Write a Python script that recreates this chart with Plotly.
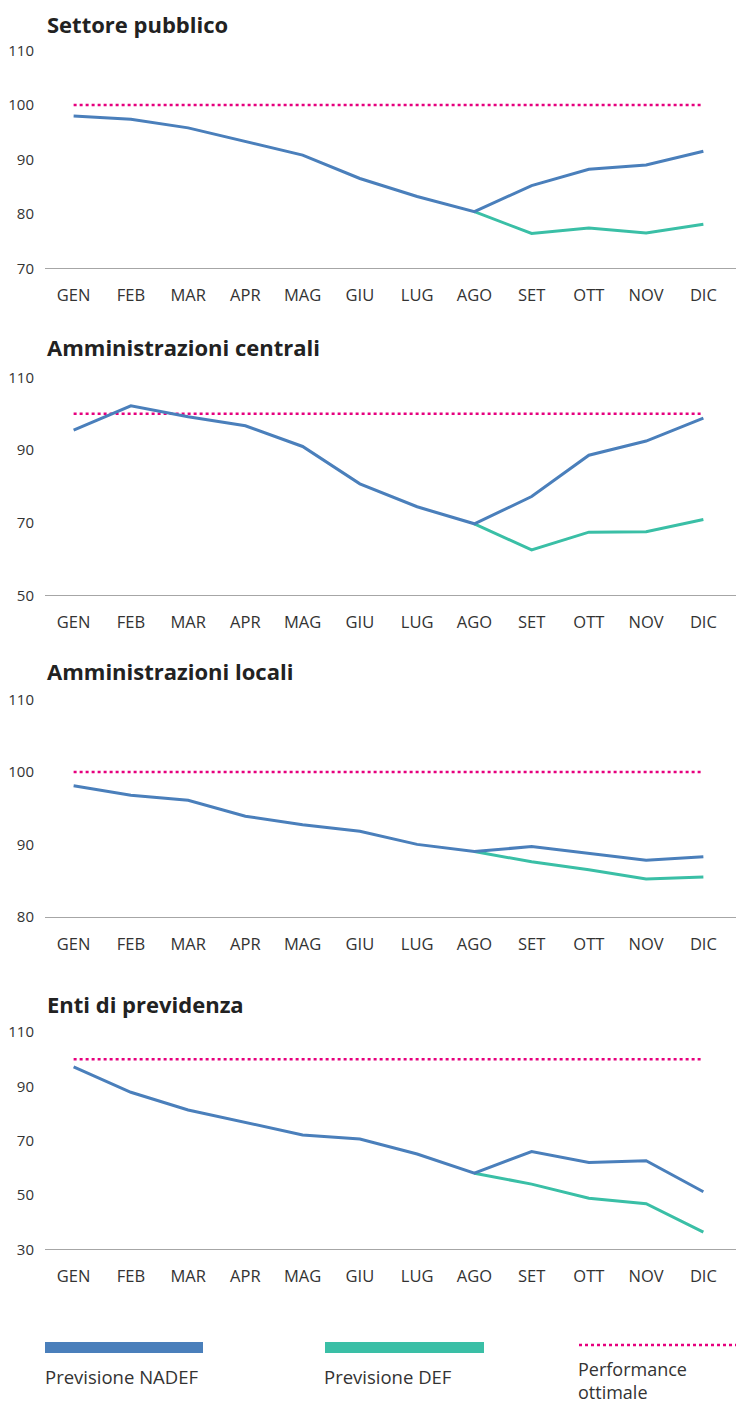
import plotly.graph_objects as go

months = ["GEN", "FEB", "MAR", "APR", "MAG", "GIU", "LUG", "AGO", "SET", "OTT", "NOV", "DIC"]

titles = ["Settore pubblico", "Amministrazioni centrali", "Amministrazioni locali", "Enti di previdenza"]

nadef_pubblico = [98.0, 97.4, 95.8, 93.3, 90.8, 86.5, 83.2, 80.4, 85.2, 88.2, 89.0, 91.5]
def_pubblico = [None, None, None, None, None, None, None, 80.4, 76.4, 77.4, 76.5, 78.1]

nadef_centrali = [95.5, 102.2, 99.2, 96.7, 91.0, 80.7, 74.4, 69.7, 77.2, 88.6, 92.5, 98.8]
def_centrali = [None, None, None, None, None, None, None, 69.7, 62.5, 67.4, 67.5, 70.9]

nadef_locali = [98.1, 96.8, 96.1, 93.9, 92.7, 91.8, 90.0, 89.0, 89.7, 88.7, 87.8, 88.3]
def_locali = [None, None, None, None, None, None, None, 89.0, 87.6, 86.5, 85.2, 85.5]

nadef_previdenza = [97.2, 87.8, 81.3, 76.7, 72.1, 70.6, 65.1, 58.0, 66.0, 62.0, 62.6, 51.2]
def_previdenza = [None, None, None, None, None, None, None, 58.0, 54.0, 48.8, 46.8, 36.3]

ottimale = [100] * 12

y_ranges = [[70, 110], [50, 110], [80, 110], [30, 110]]
y_ticks = [[70, 80, 90, 100, 110], [50, 70, 90, 110], [80, 90, 100, 110], [30, 50, 70, 90, 110]]

legend_labels = ["Previsione NADEF", "Previsione DEF", "Performance<br>ottimale"]

BLUE = "#4A7FBB"
GREEN = "#3ABFA6"
PINK = "#E6007E"
TEXT = "#333333"
FONT = "Open Sans"

W, H = 736, 1405
# plot areas in pixels: (top, bottom)
areas = [(50.6, 268.3), (377.5, 595.3), (699.7, 916.7), (1032.0, 1249.3)]
title_y = [24, 347, 671, 1004]
x0, x1 = 45, 736

nadef = [nadef_pubblico, nadef_centrali, nadef_locali, nadef_previdenza]
defs = [def_pubblico, def_centrali, def_locali, def_previdenza]

fig = go.Figure()
annotations = []
for i in range(4):
    xa = "x" if i == 0 else f"x{i+1}"
    ya = "y" if i == 0 else f"y{i+1}"
    fig.add_trace(go.Scatter(x=months, y=ottimale, mode="lines", xaxis=xa, yaxis=ya,
                             line=dict(color=PINK, width=2.5, dash="dot"), showlegend=False))
    fig.add_trace(go.Scatter(x=months, y=defs[i], mode="lines", xaxis=xa, yaxis=ya,
                             line=dict(color=GREEN, width=3), showlegend=False))
    fig.add_trace(go.Scatter(x=months, y=nadef[i], mode="lines", xaxis=xa, yaxis=ya,
                             line=dict(color=BLUE, width=3), showlegend=False))
    top, bot = areas[i]
    xkey = "xaxis" if i == 0 else f"xaxis{i+1}"
    ykey = "yaxis" if i == 0 else f"yaxis{i+1}"
    fig.update_layout(**{
        xkey: dict(domain=[x0 / W, x1 / W], anchor=ya, type="category",
                   categoryorder="array", categoryarray=months,
                   range=[-0.5, 11.57], showgrid=False, zeroline=False,
                   showline=True, linecolor="#A6A6A6", linewidth=1.3,
                   ticks="", tickfont=dict(family=FONT, size=16.5, color=TEXT),
                   ticklabelstandoff=12, fixedrange=True, automargin=False),
        ykey: dict(domain=[1 - bot / H, 1 - top / H], anchor=xa, range=y_ranges[i],
                   tickvals=y_ticks[i], showgrid=False, zeroline=False, showline=False,
                   ticks="", tickfont=dict(family=FONT, size=15, color=TEXT),
                   ticklabelstandoff=10, fixedrange=True, automargin=False),
    })
    annotations.append(dict(text=f"<b>{titles[i]}</b>", xref="paper", yref="paper",
                            x=x0 / W, y=1 - title_y[i] / H, xanchor="left", yanchor="middle",
                            showarrow=False, font=dict(family=FONT, size=22, color="#222222")))

# legend (drawn manually)
shapes = [
    dict(type="rect", xref="paper", yref="paper", x0=45 / W, x1=203 / W,
         y0=1 - 1353 / H, y1=1 - 1342 / H, fillcolor=BLUE, line=dict(width=0)),
    dict(type="rect", xref="paper", yref="paper", x0=325 / W, x1=484 / W,
         y0=1 - 1353 / H, y1=1 - 1342 / H, fillcolor=GREEN, line=dict(width=0)),
    dict(type="line", xref="paper", yref="paper", x0=579 / W, x1=736 / W,
         y0=1 - 1345 / H, y1=1 - 1345 / H, line=dict(color=PINK, width=2.5, dash="dot")),
]
annotations.append(dict(text=legend_labels[0], xref="paper", yref="paper", x=44 / W, y=1 - 1376 / H,
                        xanchor="left", yanchor="middle", showarrow=False, borderpad=0,
                        font=dict(family=FONT, size=18.5, color=TEXT)))
annotations.append(dict(text=legend_labels[1], xref="paper", yref="paper", x=323 / W, y=1 - 1376 / H,
                        xanchor="left", yanchor="middle", showarrow=False, borderpad=0,
                        font=dict(family=FONT, size=18.5, color=TEXT)))
annotations.append(dict(text=legend_labels[2], xref="paper", yref="paper", x=577 / W, y=0.0,
                        xanchor="left", yanchor="bottom", align="left", showarrow=False,
                        borderpad=0, font=dict(family=FONT, size=18, color=TEXT)))

fig.update_layout(width=W, height=H, margin=dict(l=0, r=0, t=0, b=0, autoexpand=False),
                  paper_bgcolor="white", plot_bgcolor="white",
                  annotations=annotations, shapes=shapes, showlegend=False)

fig.write_html("out.html", config={"displayModeBar": False},
               post_script="document.body.style.margin='0';document.body.style.overflow='hidden';")
